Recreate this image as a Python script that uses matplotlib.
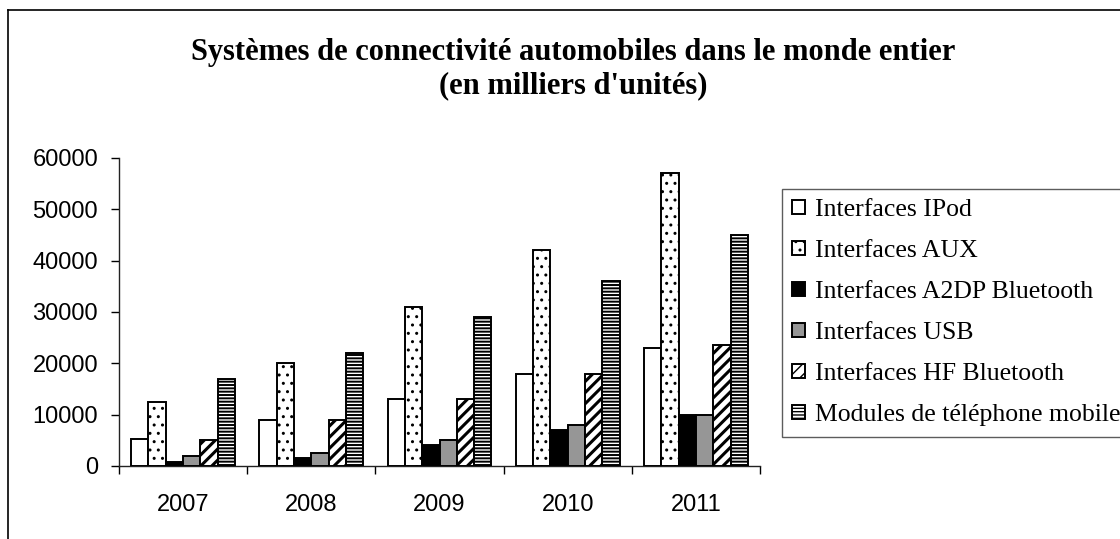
import matplotlib
matplotlib.use("Agg")
import matplotlib.pyplot as plt
from matplotlib.lines import Line2D
import numpy as np

years = ["2007", "2008", "2009", "2010", "2011"]
series_names = [
    "Interfaces IPod",
    "Interfaces AUX",
    "Interfaces A2DP Bluetooth",
    "Interfaces USB",
    "Interfaces HF Bluetooth",
    "Modules de téléphone mobile",
]
ipod = [5200, 9000, 13000, 18000, 23000]
aux = [12500, 20000, 31000, 42000, 57000]
a2dp = [700, 1500, 4000, 7000, 10000]
usb = [2000, 2600, 5000, 8000, 10000]
hf = [5000, 9000, 13000, 18000, 23500]
mobile = [17000, 22000, 29000, 36000, 45000]
series_values = [ipod, aux, a2dp, usb, hf, mobile]
y_ticks = [0, 10000, 20000, 30000, 40000, 50000, 60000]
title = "Systèmes de connectivité automobiles dans le monde entier\n(en milliers d'unités)"

styles = [
    dict(facecolor="white", hatch=None, hlw=1.0),
    dict(facecolor="white", hatch="..", hlw=1.0),
    dict(facecolor="black", hatch=None, hlw=1.0),
    dict(facecolor="#969696", hatch=None, hlw=1.0),
    dict(facecolor="white", hatch="///", hlw=2.2),
    dict(facecolor="white", hatch="-----", hlw=1.4),
]

plt.rcParams["font.family"] = ["Liberation Sans", "DejaVu Sans"]

W, H = 1120, 539
fig = plt.figure(figsize=(W / 100, H / 100), dpi=100)
fig.patch.set_facecolor("white")

# outer frame (left and top edges visible)
fig.add_artist(Line2D([8 / W, 8 / W], [0, 1 - 10 / H], transform=fig.transFigure,
                      color="black", lw=1.2))
fig.add_artist(Line2D([8 / W, 1], [1 - 10 / H, 1 - 10 / H], transform=fig.transFigure,
                      color="black", lw=1.2))

ax = fig.add_axes([119 / W, 1 - 466 / H, (760 - 119) / W, (466 - 158) / H])
x = np.arange(len(years))
bw = 0.135
handles = []
for i, (name, vals, st) in enumerate(zip(series_names, series_values, styles)):
    with plt.rc_context({"hatch.linewidth": st["hlw"]}):
        b = ax.bar(x + (i - 2.5) * bw, vals, width=bw, facecolor=st["facecolor"],
                   edgecolor="black", linewidth=1.4, hatch=st["hatch"], label=name, zorder=3)
    for p in b:
        if hasattr(p, "set_hatch_linewidth"):
            p.set_hatch_linewidth(st["hlw"])
    handles.append(b)

ax.set_xlim(-0.5, len(years) - 0.5)
ax.set_ylim(0, 60000)
ax.set_yticks(y_ticks)
ax.set_yticklabels([str(v) for v in y_ticks], fontsize=17)
ax.set_xticks(np.arange(-0.5, len(years)), minor=False)
ax.set_xticklabels([])
ax.set_xticks(x, minor=True)
ax.set_xticklabels(years, minor=True, fontsize=17)
ax.tick_params(axis="x", which="major", direction="out", length=6, width=1)
ax.tick_params(axis="x", which="minor", length=0, pad=20)
ax.tick_params(axis="y", direction="out", length=6, width=1, pad=9)
for s in ["top", "right"]:
    ax.spines[s].set_visible(False)
for s in ["left", "bottom"]:
    ax.spines[s].set_color("#222222")
    ax.spines[s].set_linewidth(1)

fig.text(573 / W, 1 - 69 / H, title, ha="center", va="center", fontsize=22,
         fontweight="bold", family=["Liberation Serif"], linespacing=1.22)

leg = fig.legend(handles=handles, labels=series_names, loc="upper left",
                 bbox_to_anchor=(782 / W, 1 - 189 / H), bbox_transform=fig.transFigure,
                 prop={"family": "Liberation Serif", "size": 18.5},
                 frameon=True, fancybox=False, shadow=False, borderaxespad=0,
                 handlelength=0.48, handleheight=0.48, handletextpad=0.4,
                 labelspacing=0.74, borderpad=0.4)
leg.get_frame().set_edgecolor("#333333")
leg.get_frame().set_linewidth(1)

fig.savefig("out.png", dpi=100, facecolor="white")
